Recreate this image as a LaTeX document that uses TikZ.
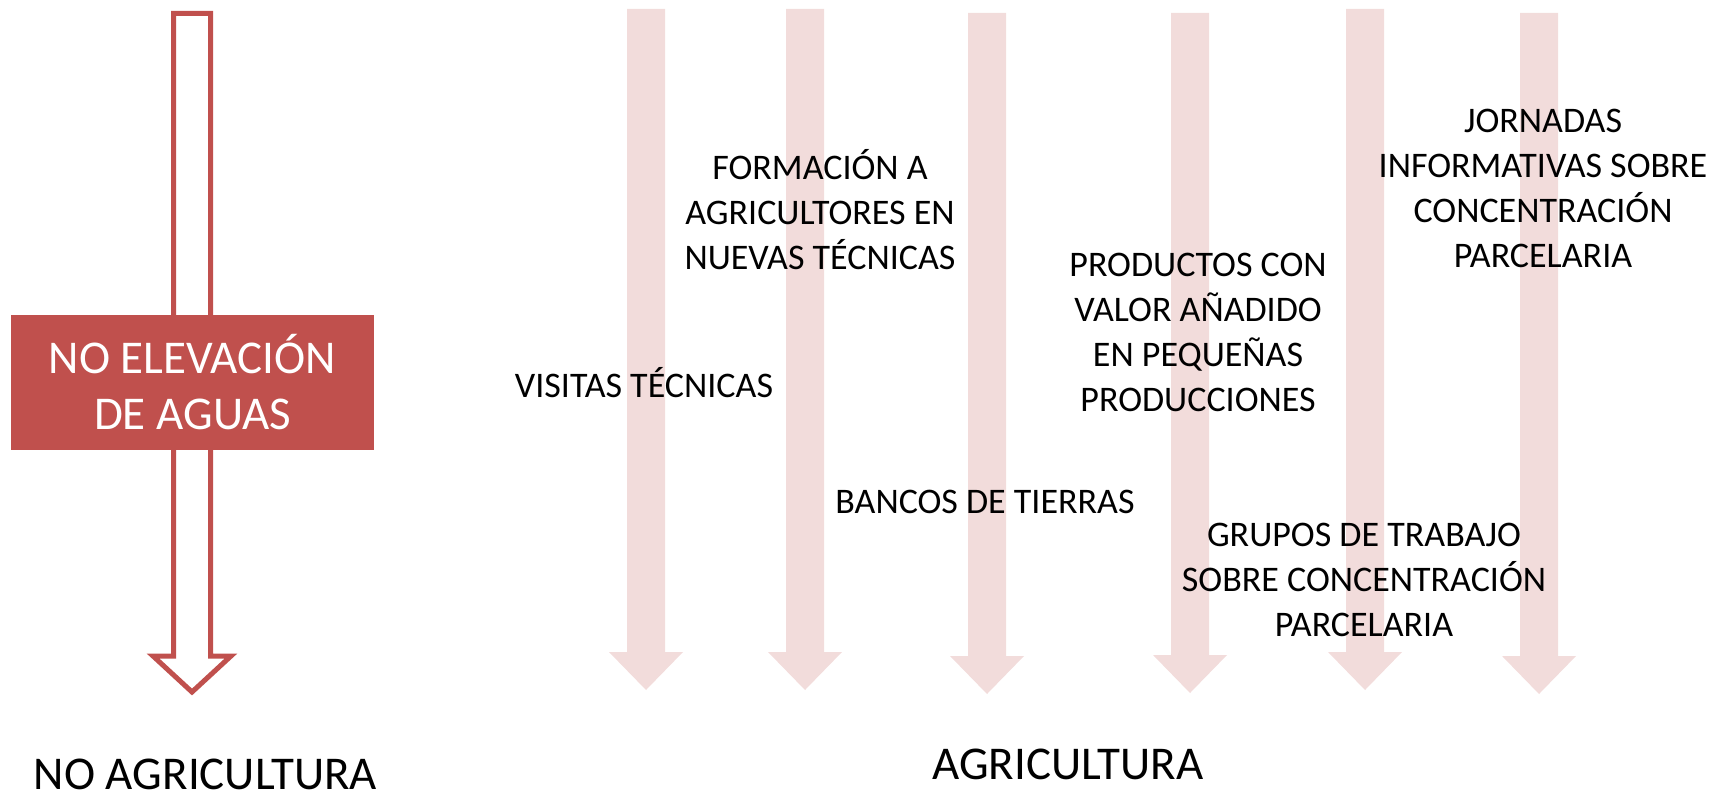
\documentclass[tikz,border=0pt]{standalone}
\usepackage{fontspec}
\setmainfont{Carlito}
\usetikzlibrary{positioning}
\usepackage{xcolor}
\definecolor{rojo}{HTML}{C0504D}
\definecolor{rosa}{HTML}{F2DCDB}

\begin{document}
\begin{tikzpicture}[x=0.5pt, y=-0.5pt,
    texto/.style={font=\fontsize{18pt}{22.5pt}\selectfont, align=center, inner sep=0pt, anchor=base},
    grande/.style={font=\fontsize{23.5pt}{28pt}\selectfont, align=center, inner sep=0pt, anchor=base, text depth=0pt}]
      \useasboundingbox (0, 0) rectangle (1727, 796);

      % flechas claras
      \foreach \cx/\top/\tip in {646/9/690, 805/9/690, 987/13/694, 1190/13/693, 1365/9/690, 1539/13/694}
        \fill[rosa] (\cx-19, \top) -- (\cx+19, \top) -- (\cx+19, \tip-38) -- (\cx+37, \tip-38)
          -- (\cx, \tip) -- (\cx-37, \tip-38) -- (\cx-19, \tip-38) -- cycle;

      % flecha hueca
      \draw[rojo, line width=2.5pt, line join=miter] (173.5, 13.5) -- (210.5, 13.5) -- (210.5, 656)
        -- (231, 656) -- (192, 692) -- (153, 656) -- (173.5, 656) -- cycle;

      \node[fill=rojo, text=white, minimum width=181.5pt, minimum height=67.5pt, inner sep=0pt,
        font=\fontsize{23.5pt}{28pt}\selectfont, align=center] (caja) at (192.5, 382.5) {NO ELEVACIÓN\\DE AGUAS};

      % base = ultima linea
      \node[texto] (visitas) at (644, 397) {VISITAS TÉCNICAS};
      \node[texto] (formacion) at (820, 270) {FORMACIÓN A\\AGRICULTORES EN\\NUEVAS TÉCNICAS};
      \node[texto] (bancos) at (985, 513) {BANCOS DE TIERRAS};
      \node[texto] (productos) at (1198, 411) {PRODUCTOS CON\\VALOR AÑADIDO\\EN PEQUEÑAS\\PRODUCCIONES};
      \node[texto] (grupos) at (1364, 636) {GRUPOS DE TRABAJO\\SOBRE CONCENTRACIÓN\\PARCELARIA};
      \node[texto] (jornadas) at (1543, 268) {JORNADAS\\INFORMATIVAS SOBRE\\CONCENTRACIÓN\\PARCELARIA};

      \node[grande] (noagri) at (205.5, 789) {NO AGRICULTURA};
      \node[grande] (agri) at (1068, 779) {AGRICULTURA};

    \end{tikzpicture}
\end{document}
